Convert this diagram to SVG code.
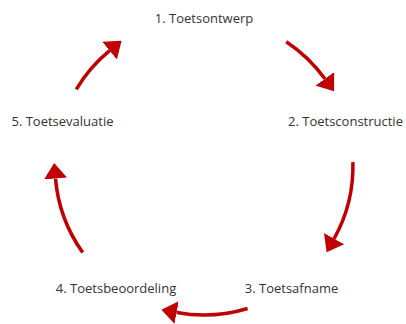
<svg xmlns="http://www.w3.org/2000/svg" width="406" height="324" viewBox="0 0 406 324">
<style>
.lbl{font-family:"Open Sans","Liberation Sans",sans-serif;font-size:13px;fill:#333333;text-anchor:middle}
.arc{fill:none;stroke:#C00000;stroke-width:3.5;marker-end:url(#ah)}
</style>
<defs>
<marker id="ah" markerUnits="userSpaceOnUse" markerWidth="16" markerHeight="24" viewBox="0 -12 16 24" refX="0" refY="0" orient="auto">
<path d="M0,-11.5 L15.5,0 L0,11.5 z" fill="#C00000"/>
</marker>
</defs>
<rect width="406" height="324" fill="#ffffff"/>
<g id="node1"><text class="lbl" x="204" y="23">1. Toetsontwerp</text></g>
<g id="node2"><text class="lbl" x="345.5" y="126">2. Toetsconstructie</text></g>
<g id="node3"><text class="lbl" x="291.5" y="293">3. Toetsafname</text></g>
<g id="node4"><text class="lbl" x="116" y="293">4. Toetsbeoordeling</text></g>
<g id="node5"><text class="lbl" x="62.5" y="126">5. Toetsevaluatie</text></g>
<g id="connectors">
<path class="arc" d="M286.2,41.7 A149,149 0 0 1 324.9,78.8"/>
<path class="arc" d="M352.9,162.1 A149,149 0 0 1 334.1,238.7"/>
<path class="arc" d="M247.6,308.5 A149,149 0 0 1 176.6,312.5"/>
<path class="arc" d="M82.7,252.5 A149,149 0 0 1 55.5,178.5"/>
<path class="arc" d="M76.3,89.3 A149,149 0 0 1 109.6,50.7"/>
</g>
</svg>
